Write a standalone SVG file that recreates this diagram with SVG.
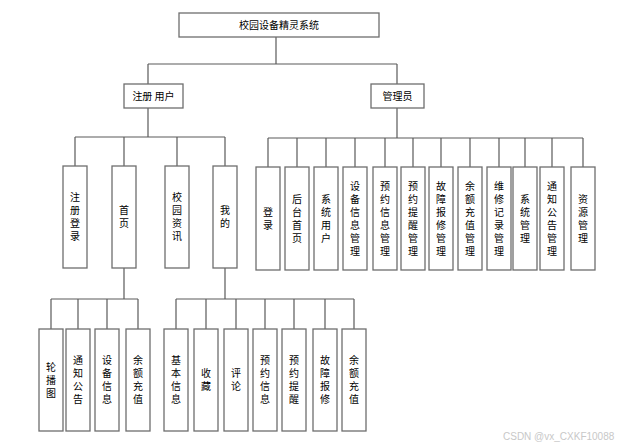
<svg xmlns="http://www.w3.org/2000/svg" width="628" height="448" viewBox="0 0 628 448">
<style>
.b{fill:#fff;stroke:#6e6e6e;stroke-width:1.3}
.t{font-family:"Noto Sans CJK SC","Noto Sans",sans-serif;font-size:10px;fill:#000;text-anchor:middle}
.v{font-family:"Noto Sans CJK SC","Noto Sans",sans-serif;font-size:10px;fill:#000;text-anchor:middle;writing-mode:vertical-rl;letter-spacing:3px}
.l{fill:none;stroke:#5a5a5a;stroke-width:1.2}
.w{font-family:"Liberation Sans",sans-serif;font-size:10px;fill:#c8c8c8}
</style>
<rect width="628" height="448" fill="#fff"/>
<g id="connectors" class="l">
<path d="M276 37V64M148 64H397M148 64V84M397 64V84"/>
<path d="M148 108V137M75 137H225M75 137V166M124 137V166M177 137V166M225 137V166"/>
<path d="M397 108V138M268 138H583M268 138V167M297 138V167M326 138V167M355 138V167M385 138V167M413 138V167M441 138V167M470 138V167M499 138V167M525 138V167M552 138V167M583 138V167"/>
<path d="M124 268V299M51 299H138M51 299V329M78 299V329M107 299V329M138 299V329"/>
<path d="M225 268V299M176 299H354M176 299V329M206 299V329M236 299V329M265 299V329M294 299V329M325 299V329M354 299V329"/>
</g>
<g id="root"><rect class="b" x="179" y="13" width="200" height="24"/><text class="t" x="279" y="28.5">校园设备精灵系统</text></g>
<g id="user"><rect class="b" x="124" y="84" width="59" height="24"/><text class="t" x="153.5" y="99.5">注册 用户</text></g>
<g id="admin"><rect class="b" x="371" y="84" width="53" height="24"/><text class="t" x="397.5" y="99.5">管理员</text></g>

<g id="u1"><rect class="b" x="63" y="166" width="24" height="102"/><text class="v" x="75" y="218.5">注册登录</text></g>
<g id="u2"><rect class="b" x="112" y="166" width="24" height="102"/><text class="v" x="124" y="218.5">首页</text></g>
<g id="u3"><rect class="b" x="165" y="166" width="24" height="102"/><text class="v" x="177" y="218.5">校园资讯</text></g>
<g id="u4"><rect class="b" x="213" y="166" width="24" height="102"/><text class="v" x="225" y="218.5">我的</text></g>

<g id="a1"><rect class="b" x="256" y="167" width="24" height="103"/><text class="v" x="268" y="220">登录</text></g>
<g id="a2"><rect class="b" x="285" y="167" width="24" height="103"/><text class="v" x="297" y="220">后台首页</text></g>
<g id="a3"><rect class="b" x="314" y="167" width="24" height="103"/><text class="v" x="326" y="220">系统用户</text></g>
<g id="a4"><rect class="b" x="343" y="167" width="24" height="103"/><text class="v" x="355" y="220">设备信息管理</text></g>
<g id="a5"><rect class="b" x="373" y="167" width="24" height="103"/><text class="v" x="385" y="220">预约信息管理</text></g>
<g id="a6"><rect class="b" x="401" y="167" width="24" height="103"/><text class="v" x="413" y="220">预约提醒管理</text></g>
<g id="a7"><rect class="b" x="429" y="167" width="24" height="103"/><text class="v" x="441" y="220">故障报修管理</text></g>
<g id="a8"><rect class="b" x="458" y="167" width="24" height="103"/><text class="v" x="470" y="220">余额充值管理</text></g>
<g id="a9"><rect class="b" x="487" y="167" width="24" height="103"/><text class="v" x="499" y="220">维修记录管理</text></g>
<g id="a10"><rect class="b" x="513" y="167" width="24" height="103"/><text class="v" x="525" y="220">系统管理</text></g>
<g id="a11"><rect class="b" x="540" y="167" width="24" height="103"/><text class="v" x="552" y="220">通知公告管理</text></g>
<g id="a12"><rect class="b" x="571" y="167" width="24" height="103"/><text class="v" x="583" y="220">资源管理</text></g>

<g id="h1"><rect class="b" x="39" y="329" width="24" height="102"/><text class="v" x="51" y="381.5">轮播图</text></g>
<g id="h2"><rect class="b" x="66" y="329" width="24" height="102"/><text class="v" x="78" y="381.5">通知公告</text></g>
<g id="h3"><rect class="b" x="95" y="329" width="24" height="102"/><text class="v" x="107" y="381.5">设备信息</text></g>
<g id="h4"><rect class="b" x="126" y="329" width="24" height="102"/><text class="v" x="138" y="381.5">余额充值</text></g>

<g id="m1"><rect class="b" x="164" y="329" width="24" height="102"/><text class="v" x="176" y="381.5">基本信息</text></g>
<g id="m2"><rect class="b" x="194" y="329" width="24" height="102"/><text class="v" x="206" y="381.5">收藏</text></g>
<g id="m3"><rect class="b" x="224" y="329" width="24" height="102"/><text class="v" x="236" y="381.5">评论</text></g>
<g id="m4"><rect class="b" x="253" y="329" width="24" height="102"/><text class="v" x="265" y="381.5">预约信息</text></g>
<g id="m5"><rect class="b" x="282" y="329" width="24" height="102"/><text class="v" x="294" y="381.5">预约提醒</text></g>
<g id="m6"><rect class="b" x="313" y="329" width="24" height="102"/><text class="v" x="325" y="381.5">故障报修</text></g>
<g id="m7"><rect class="b" x="342" y="329" width="24" height="102"/><text class="v" x="354" y="381.5">余额充值</text></g>

<text class="w" x="503" y="440">CSDN @vx_CXKF10088</text>
</svg>
